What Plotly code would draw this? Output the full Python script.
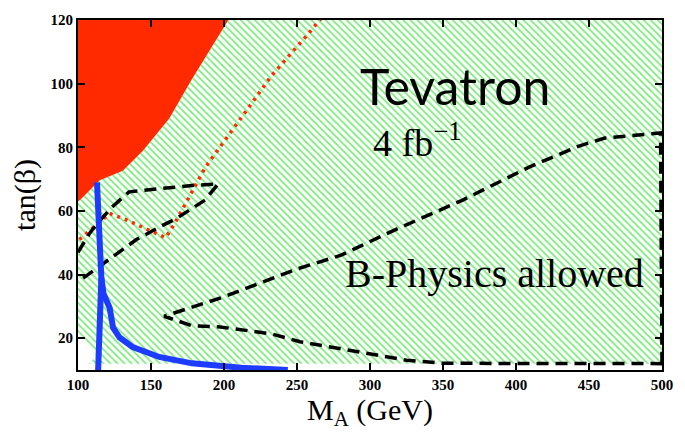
import plotly.graph_objects as go

# Red excluded region boundary (M_A, tan beta)
red_x = [100, 101.4, 114.9, 130.7, 144.3, 162.4, 178, 191.7, 203]
red_y = [63, 63.4, 69.6, 72.6, 78.8, 89, 101.4, 111.7, 120]

# Lower-left corner of green (B-physics allowed) region
green_tail_x = [500, 500, 107, 112.6, 100]
green_tail_y = [120, 12, 12, 14.3, 22]

# Red dotted contour
dot_x = [101, 121.7, 133, 153.3, 160, 165.8, 173.7, 187.2, 209.8, 232.4, 256.1, 266.3]
dot_y = [51, 59.2, 57.2, 53.1, 51.6, 55.7, 62.4, 73.7, 88, 102.4, 114.8, 120.4]

# Black dashed contour (small loop)
dash1_x = [100, 108, 115, 124, 135, 156, 178, 196, 187, 167, 156, 140, 128, 110, 100]
dash1_y = [47, 53, 57, 61.5, 66, 67, 68, 68.5, 63.4, 57.5, 55, 51, 47, 40.8, 37.7]

# Black dashed contour (large)
dash2_x = [500, 499, 460.8, 442.6, 408.6, 363.5, 318.3, 279.8, 250.5, 200, 159,
           178, 196, 232, 252, 295.6, 325, 350, 500]
dash2_y = [12, 84.5, 82.9, 80.3, 73.7, 63.4, 54.3, 46, 41.8, 33, 26.9,
           23.9, 23.6, 21.4, 18.9, 15.6, 13.1, 12.1, 12]

# Blue contour
blue_x = [113, 113.8, 114.5, 116, 116, 117.5, 119.4, 121.7, 124, 128.5, 137.5, 155.6, 178, 212, 243.7]
blue_y = [69, 62.4, 50, 41.8, 39, 34, 31.6, 29.5, 23.3, 20.2, 17.2, 14.1, 12.1, 10.7, 10]
blue2_x = [116, 115, 113.8, 113.8]
blue2_y = [39, 29.5, 17.2, 10]

fig = go.Figure()

# Green hatched region
gx = red_x + green_tail_x
gy = red_y + green_tail_y
fig.add_trace(go.Scatter(
    x=gx + [gx[0]], y=gy + [gy[0]], mode="lines", fill="toself",
    line=dict(width=0, color="rgba(0,0,0,0)"),
    fillcolor="rgba(0,0,0,0)",
    fillpattern=dict(shape="\\", fgcolor="#00d800", bgcolor="white", size=5, solidity=0.35),
    hoverinfo="skip", showlegend=False))

# Red region
rx = red_x + [100]
ry = red_y + [120]
fig.add_trace(go.Scatter(
    x=rx, y=ry, mode="lines", fill="toself",
    line=dict(width=0, color="#ff2a00"), fillcolor="#ff2a00",
    hoverinfo="skip", showlegend=False))

fig.add_trace(go.Scatter(x=dot_x, y=dot_y, mode="lines",
                         line=dict(color="#ff2a00", width=3.5, dash="3px,5px"), showlegend=False))
fig.add_trace(go.Scatter(x=dash1_x, y=dash1_y, mode="lines",
                         line=dict(color="black", width=3.5, dash="12px,7px"), showlegend=False))
fig.add_trace(go.Scatter(x=dash2_x, y=dash2_y, mode="lines",
                         line=dict(color="black", width=3.5, dash="12px,7px"), showlegend=False))
fig.add_trace(go.Scatter(x=blue_x, y=blue_y, mode="lines",
                         line=dict(color="#1e3cff", width=6), showlegend=False))
fig.add_trace(go.Scatter(x=blue2_x, y=blue2_y, mode="lines",
                         line=dict(color="#1e3cff", width=6), showlegend=False))

tickfont = dict(family="Liberation Serif", size=15, color="black", weight="bold")
axis_common = dict(showline=True, linecolor="black", linewidth=2, mirror="ticks",
                   ticks="inside", ticklen=7, tickwidth=2, tickcolor="black",
                   showgrid=False, zeroline=False, tickfont=tickfont)

fig.update_layout(
    width=685, height=433,
    margin=dict(l=78, r=17, t=13, b=63),
    paper_bgcolor="white", plot_bgcolor="white",
    xaxis=dict(range=[100, 500], tickvals=[100, 150, 200, 250, 300, 350, 400, 450, 500],
               title=dict(text="M<sub>A</sub> (GeV)", standoff=0,
                          font=dict(family="Liberation Serif", size=30, color="black")),
               **axis_common),
    yaxis=dict(range=[10, 120], tickvals=[20, 40, 60, 80, 100, 120],
               title=dict(text="tan(β)", standoff=6,
                          font=dict(family="Liberation Serif", size=30, color="black")),
               **axis_common),
    annotations=[
        dict(x=358, y=99.2, xref="x", yref="y", text="Tevatron", showarrow=False,
             font=dict(family="Lato", size=50, color="black")),
        dict(x=332, y=82.2, xref="x", yref="y", text="4 fb<sup>−1</sup>", showarrow=False,
             font=dict(family="Liberation Serif", size=38, color="black")),
        dict(x=385.4, y=40.2, xref="x", yref="y", text="B-Physics allowed", showarrow=False,
             font=dict(family="Liberation Serif", size=40, color="black")),
    ],
)

fig.write_html("out.html")
